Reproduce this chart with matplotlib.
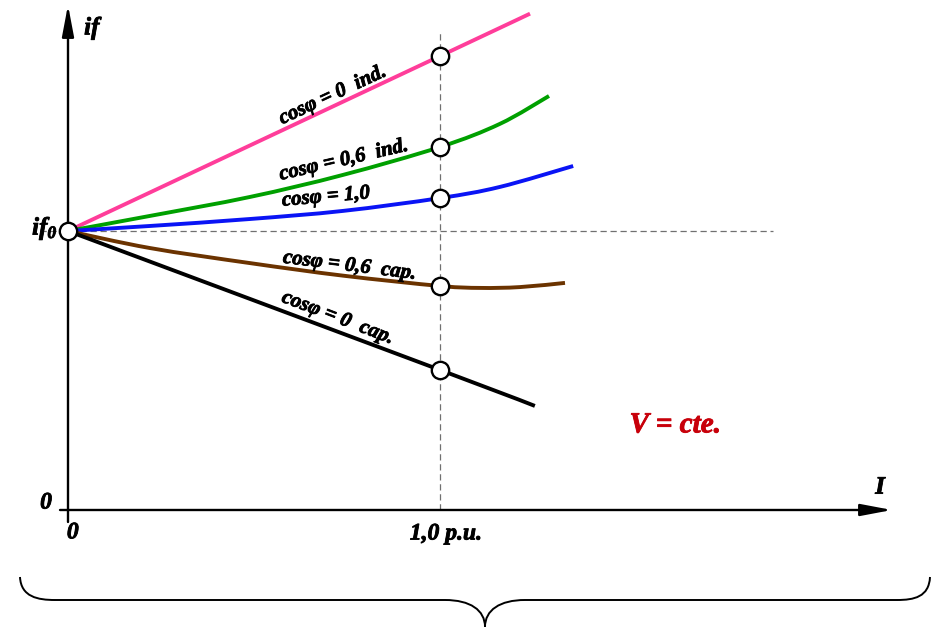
import matplotlib
matplotlib.use("Agg")
import matplotlib.pyplot as plt
import matplotlib.patheffects as pe
from matplotlib.path import Path
from matplotlib.patches import PathPatch
import numpy as np

plt.rcParams['font.family'] = ['Liberation Serif', 'DejaVu Serif']
plt.rcParams['font.weight'] = 'bold'
plt.rcParams['font.style'] = 'italic'
plt.rcParams['mathtext.fontset'] = 'custom'
plt.rcParams['mathtext.it'] = 'Liberation Serif:style=italic:weight=bold'
plt.rcParams['mathtext.rm'] = 'Liberation Serif:style=italic:weight=bold'

# Field current (relative to if0) versus armature current (p.u.), V constant
pf0_ind_x = [0.0, 1.0, 1.242]
pf0_ind_y = [1.0, 1.627, 1.779]

pf06_ind_x = [0.0, 0.22, 0.489, 0.739, 1.0, 1.161, 1.293]
pf06_ind_y = [1.0, 1.054, 1.122, 1.201, 1.301, 1.384, 1.484]

pf1_x = [0.0, 0.22, 0.489, 0.739, 1.0, 1.161, 1.358]
pf1_y = [1.0, 1.018, 1.043, 1.072, 1.118, 1.158, 1.233]

pf06_cap_x = [0.0, 0.22, 0.489, 0.739, 1.0, 1.108, 1.215, 1.336]
pf06_cap_y = [1.0, 0.939, 0.885, 0.840, 0.803, 0.796, 0.799, 0.814]

pf0_cap_x = [0.0, 1.0, 1.255]
pf0_cap_y = [1.0, 0.502, 0.373]

curve_labels = ["cosφ = 0  ind.", "cosφ = 0,6  ind.", "cosφ = 1,0",
                "cosφ = 0,6  cap.", "cosφ = 0  cap."]
x_tick_labels = ["0", "1,0 p.u."]
y_tick_labels = ["0"]

fig = plt.figure(figsize=(9.32, 6.27), dpi=100)
ax = fig.add_axes([0, 0, 1, 1])
ax.set_xlim(-0.1828, 2.3226)
ax.set_ylim(-0.4194, 1.828)
ax.axis('off')


def smooth_path(xs, ys):
    """Cubic Bezier path through every point (Catmull-Rom tangents)."""
    pts = np.column_stack([xs, ys]).astype(float)
    n = len(pts)
    verts = [pts[0]]
    codes = [Path.MOVETO]
    for i in range(n - 1):
        p0 = pts[i - 1] if i > 0 else pts[i]
        p1 = pts[i]
        p2 = pts[i + 1]
        p3 = pts[i + 2] if i + 2 < n else pts[i + 1]
        c1 = p1 + (p2 - p0) / 6.0
        c2 = p2 - (p3 - p1) / 6.0
        verts += [c1, c2, p2]
        codes += [Path.CURVE4] * 3
    return Path(verts, codes)


curves = [
    (pf0_ind_x, pf0_ind_y, '#ff3d9a'),
    (pf06_ind_x, pf06_ind_y, '#00a000'),
    (pf1_x, pf1_y, '#0a14f5'),
    (pf06_cap_x, pf06_cap_y, '#6b3300'),
    (pf0_cap_x, pf0_cap_y, '#000000'),
]

# Reference dashed lines at if0 and at 1,0 p.u.
ax.plot([-0.075, 1.895], [1.0, 1.0], color='#707070', lw=0.9,
        dashes=(5, 3), zorder=1)
ax.plot([1.0, 1.0], [0.0, 1.72], color='#707070', lw=0.9,
        dashes=(5, 3), zorder=1)

for xs, ys, col in curves:
    ax.add_patch(PathPatch(smooth_path(xs, ys), facecolor='none',
                           edgecolor=col, lw=2.8, capstyle='butt', zorder=3))

marker_kw = dict(marker='o', ms=12.5, mfc='white', mec='black', mew=1.7,
                 ls='none', zorder=5)
for xs, ys, col in curves:
    i1 = xs.index(1.0)
    ax.plot([xs[i1]], [ys[i1]], **marker_kw)
ax.plot([pf1_x[0]], [pf1_y[0]], **marker_kw)

# Axes with arrow heads
arrow_kw = dict(arrowstyle='-|>,head_length=1.9,head_width=0.36',
                color='black', lw=1.7, shrinkA=0, shrinkB=0,
                mutation_scale=10)
ax.annotate('', xy=(0, 1.81), xytext=(0, -0.043), arrowprops=arrow_kw,
            zorder=2)
ax.annotate('', xy=(2.215, 0), xytext=(-0.0215, 0), arrowprops=arrow_kw,
            zorder=2)


def heavy(color):
    # slightly thicker glyph strokes
    return [pe.withStroke(linewidth=0.6, foreground=color)]


label_kw = dict(fontsize=15, ha='center', va='center',
                rotation_mode='anchor', zorder=6, path_effects=heavy('black'))
label_pos = [(0.712, 1.487, 25), (0.742, 1.254, 13), (0.694, 1.122, 5),
             (0.758, 0.875, -7), (0.726, 0.688, -21)]
for txt, (lx, ly, rot) in zip(curve_labels, label_pos):
    ax.text(lx, ly, txt, rotation=rot, **label_kw)

txt_kw = dict(ha='center', va='center', path_effects=heavy('black'))
ax.text(0.064, 1.728, 'if', fontsize=18, **txt_kw)
ax.text(-0.062, 1.01, r'$if_{0}$', fontsize=18, **txt_kw)
ax.text(-0.059, 0.025, y_tick_labels[0], fontsize=17, **txt_kw)
ax.text(0.013, -0.082, x_tick_labels[0], fontsize=17, **txt_kw)
ax.text(1.016, -0.086, x_tick_labels[1], fontsize=17, **txt_kw)
ax.text(2.183, 0.082, 'I', fontsize=18, **txt_kw)
ax.text(1.632, 0.305, 'V = cte.', fontsize=21, ha='center', va='center',
        color='#c8000a', path_effects=heavy('#c8000a'))

# Brace under the diagram, drawn in pixel coordinates
deco = fig.add_axes([0, 0, 1, 1], zorder=-1)
deco.set_xlim(0, 932)
deco.set_ylim(627, 0)
deco.axis('off')
brace = Path(
    [(20, 577), (21, 597), (38, 600), (55, 600),
     (445, 600),
     (470, 600), (485, 610), (485, 627),
     (485, 610), (500, 600), (525, 600),
     (897, 600),
     (914, 600), (929, 597), (930, 577)],
    [Path.MOVETO, Path.CURVE4, Path.CURVE4, Path.CURVE4,
     Path.LINETO,
     Path.CURVE4, Path.CURVE4, Path.CURVE4,
     Path.CURVE4, Path.CURVE4, Path.CURVE4,
     Path.LINETO,
     Path.CURVE4, Path.CURVE4, Path.CURVE4])
deco.add_patch(PathPatch(brace, facecolor='none', edgecolor='black', lw=1.4))

fig.savefig('out.png', dpi=100)
